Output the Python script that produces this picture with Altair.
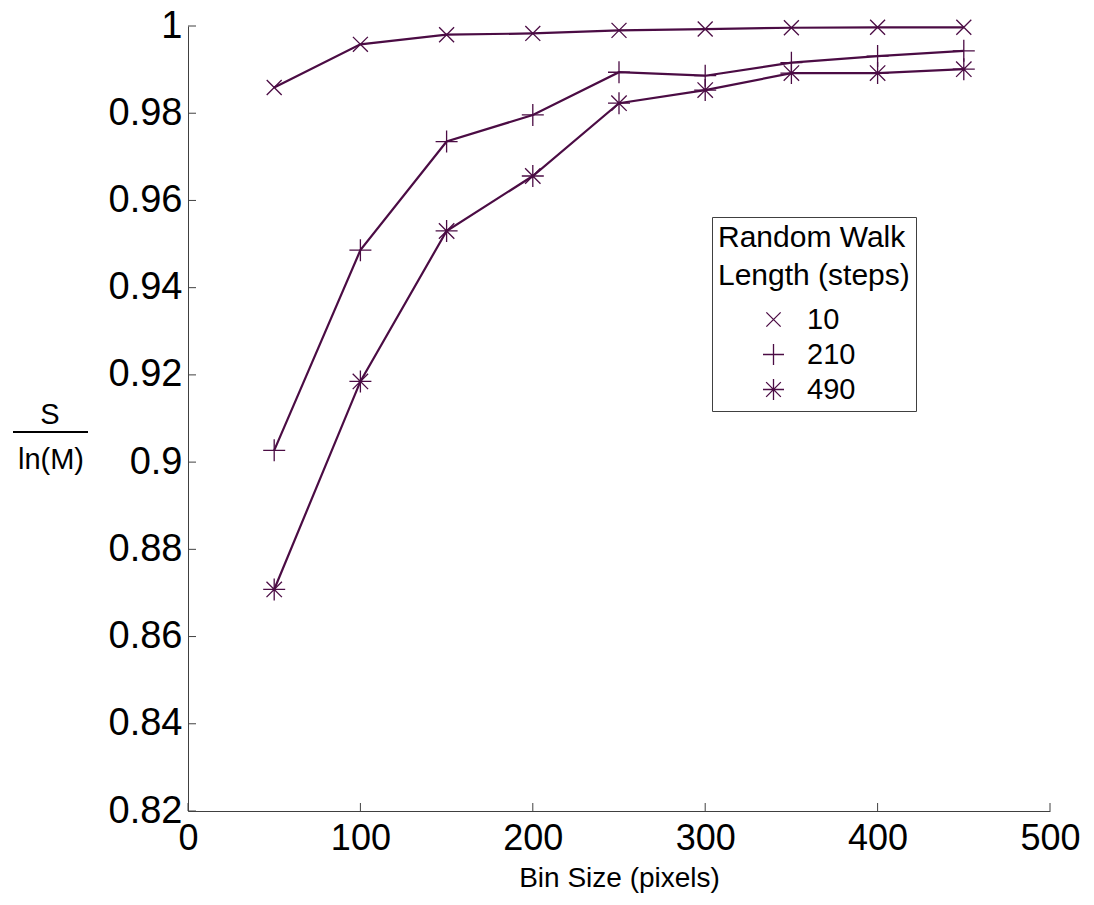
import altair as alt
import pandas as pd

# ---- data ----
bin_size = [50, 100, 150, 200, 250, 300, 350, 400, 450]
series_names = ["10", "210", "490"]
s10 = [0.9859, 0.9958, 0.9980, 0.9983, 0.9990, 0.9993, 0.9996, 0.9997, 0.9997]
s210 = [0.9027, 0.9486, 0.9735, 0.9796, 0.9894, 0.9886, 0.9916, 0.9931, 0.9943]
s490 = [0.8708, 0.9185, 0.9530, 0.9656, 0.9823, 0.9853, 0.9892, 0.9892, 0.9901]
x_ticks = [0, 100, 200, 300, 400, 500]
y_ticks = [0.82, 0.84, 0.86, 0.88, 0.90, 0.92, 0.94, 0.96, 0.98, 1.00]
legend_title = ["Random Walk", "Length (steps)"]
x_title = "Bin Size (pixels)"
frac_top = "S"
frac_bottom = "ln(M)"

rows = []
for name, vals in zip(series_names, [s10, s210, s490]):
    for b, v in zip(bin_size, vals):
        rows.append({"x": b, "y": v, "series": name})
df = pd.DataFrame(rows)

FONT = "Liberation Sans"
LINE = "#4b0c44"
AXC = "#404040"
W, H = 862, 785

xs = alt.Scale(domain=[0, 500], nice=False, zero=False)
ys = alt.Scale(domain=[0.82, 1.0], nice=False, zero=False)

xaxis = alt.Axis(values=x_ticks, ticks=False, grid=False, domainColor=AXC,
                 labelFont=FONT, labelFontSize=36, labelColor="black",
                 labelPadding=10, labelFlush=False, labelOverlap=False,
                 title=x_title, titleFont=FONT, titleFontSize=28,
                 titleFontWeight="normal", titleColor="black", titlePadding=8)
yaxis = alt.Axis(values=y_ticks, ticks=False, grid=False, domainColor=AXC,
                 labelFont=FONT, labelFontSize=38, labelColor="black",
                 labelPadding=6, labelFlush=False, labelOverlap=False,
                 format=".2~f", title=None)

X = alt.X("x:Q", scale=xs, axis=xaxis)
Y = alt.Y("y:Q", scale=ys, axis=yaxis)

x_path = "M-0.68,-0.68L0.68,0.68M-0.68,0.68L0.68,-0.68"
plus_path = "M-1,0L1,0M0,-1L0,1"
star_path = "M-1,0L1,0M0,-1L0,1M-0.7,-0.7L0.7,0.7M-0.7,0.7L0.7,-0.7"

lines = alt.Chart(df).mark_line(color=LINE, strokeWidth=2.2).encode(
    x=X, y=Y, detail="series:N")

points = alt.Chart(df).mark_point(filled=False, color=LINE, size=484,
                                  strokeWidth=1.3, opacity=1).encode(
    x=X, y=Y,
    shape=alt.Shape("series:N",
                    scale=alt.Scale(domain=series_names,
                                    range=[x_path, plus_path, star_path]),
                    legend=alt.Legend(
                        orient="none", legendX=524, legendY=191,
                        title=legend_title, titleFont=FONT, titleFontSize=30,
                        titleFontWeight="normal", titleColor="black",
                        titleLineHeight=38, titlePadding=14, titleLimit=400,
                        labelFont=FONT, labelFontSize=29, labelColor="black",
                        labelOffset=19, symbolOffset=41, symbolSize=441,
                        symbolStrokeColor=LINE, symbolStrokeWidth=1.3,
                        symbolFillColor="transparent",
                        strokeColor=AXC, fillColor="white", padding=6,
                        rowPadding=5)))

xt = alt.Chart(pd.DataFrame({"x": x_ticks})).mark_rule(color=AXC, strokeWidth=1).encode(
    x=X, y=alt.value(H), y2=alt.value(H - 8))
yt = alt.Chart(pd.DataFrame({"y": y_ticks})).mark_rule(color=AXC, strokeWidth=1).encode(
    y=Y, x=alt.value(0), x2=alt.value(8))

frac = pd.DataFrame({"top": [frac_top], "bottom": [frac_bottom]})
t_top = alt.Chart(frac).mark_text(font=FONT, fontSize=29, color="black",
                                  baseline="middle", align="center").encode(
    text="top:N", x=alt.value(-138), y=alt.value(389))
t_bot = alt.Chart(frac).mark_text(font=FONT, fontSize=29, color="black",
                                  baseline="middle", align="center").encode(
    text="bottom:N", x=alt.value(-137), y=alt.value(434))
bar = alt.Chart(frac).mark_rule(color="black", strokeWidth=2).encode(
    x=alt.value(-175), x2=alt.value(-100), y=alt.value(406))

chart = alt.layer(lines, points, xt, yt, t_top, t_bot, bar).properties(
    width=W, height=H,
    autosize=alt.AutoSizeParams(type="none"),
    padding={"left": 188, "top": 26, "right": 44, "bottom": 94},
    background="white",
).configure_view(stroke=None)

chart.save("out.html", embed_options={"renderer": "svg", "actions": False})
